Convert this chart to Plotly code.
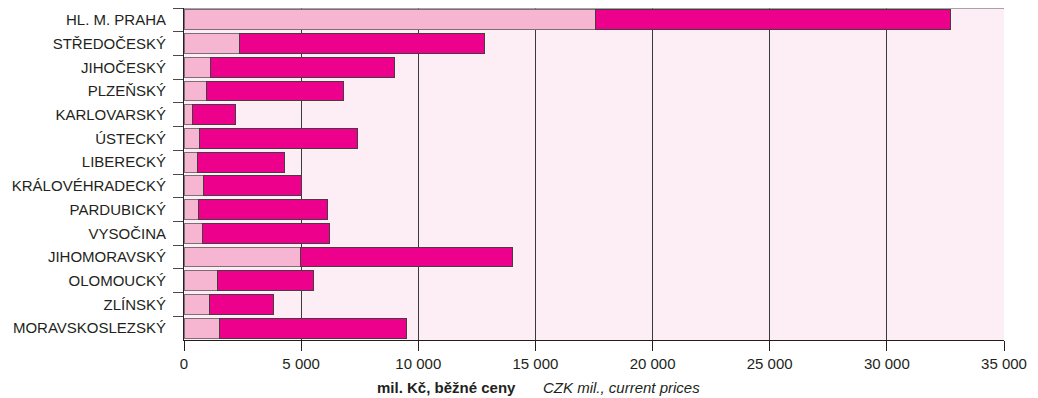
import plotly.graph_objects as go

regions = ["HL. M. PRAHA", "STŘEDOČESKÝ", "JIHOČESKÝ", "PLZEŇSKÝ", "KARLOVARSKÝ",
           "ÚSTECKÝ", "LIBERECKÝ", "KRÁLOVÉHRADECKÝ", "PARDUBICKÝ", "VYSOČINA",
           "JIHOMORAVSKÝ", "OLOMOUCKÝ", "ZLÍNSKÝ", "MORAVSKOSLEZSKÝ"]
light_part = [17560, 2350, 1150, 980, 360, 680, 555, 850, 640, 770, 4960, 1430, 1070, 1500]
dark_part = [15140, 10470, 7840, 5810, 1830, 6720, 3715, 4180, 5490, 5430, 9060, 4100, 2750, 8000]

tick_vals = [0, 5000, 10000, 15000, 20000, 25000, 30000, 35000]
tick_text = ["0", "5 000", "10 000", "15 000", "20 000", "25 000", "30 000", "35 000"]

FONT = "Liberation Sans, Arial, sans-serif"

# page body has an 8px margin; the figure is sized so that it fits the window
W, H = 1030, 390
L, R, T, B = 176, 34, 0, 58

fig = go.Figure()
fig.add_trace(go.Bar(y=regions, x=light_part, orientation="h",
                     marker=dict(color="#F6B6D1", line=dict(color="#7d6d75", width=1)),
                     showlegend=False))
fig.add_trace(go.Bar(y=regions, x=dark_part, orientation="h",
                     marker=dict(color="#EC008C", line=dict(color="#4a3a42", width=1)),
                     showlegend=False))

pw = W - L - R

fig.update_layout(
    width=W, height=H,
    margin=dict(l=L, r=R, t=T, b=B),
    barmode="stack", bargap=0.16,
    plot_bgcolor="#FDEEF5", paper_bgcolor="white",
    font=dict(family=FONT, size=15, color="#231f20"),
    xaxis=dict(range=[0, 35000], tickvals=tick_vals, ticktext=tick_text,
               showgrid=True, gridcolor="#3a3a3a", gridwidth=1,
               showline=True, linecolor="#231f20", linewidth=1,
               mirror=False, ticks="outside", ticklen=10, tickcolor="#231f20",
               tickfont=dict(size=15, color="#231f20"), zeroline=False, fixedrange=True),
    yaxis=dict(autorange="reversed", showline=True, linecolor="#231f20", linewidth=1,
               ticks="outside", ticklen=10, tickcolor="#4a4a4a", tickson="boundaries",
               ticklabelstandoff=14,
               showgrid=False, tickfont=dict(size=15, color="#231f20"), fixedrange=True),
    shapes=[dict(type="line", xref="paper", yref="paper", x0=0, x1=1, y0=1, y1=1,
                 line=dict(color="#8a8a8a", width=1.5))],
    annotations=[
        dict(text="<b>mil. Kč, běžné ceny</b>", xref="paper", yref="paper",
             x=(518 - 184) / pw, y=-37 / (H - T - B), xanchor="right", yanchor="top",
             showarrow=False, font=dict(size=15, color="#231f20")),
        dict(text="<i>CZK mil., current prices</i>", xref="paper", yref="paper",
             x=(541 - 184) / pw, y=-37 / (H - T - B), xanchor="left", yanchor="top",
             showarrow=False, font=dict(size=15, color="#231f20")),
    ],
)

fig.write_html("out.html")
